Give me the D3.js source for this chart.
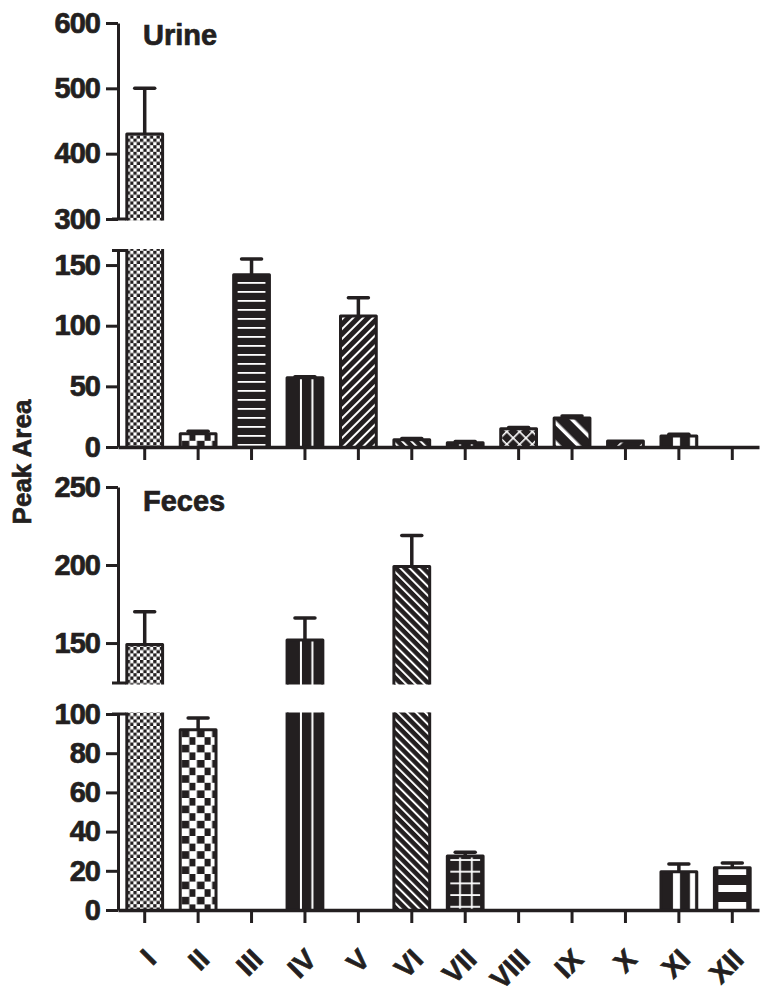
<!DOCTYPE html>
<html>
<head>
<meta charset="utf-8">
<script src="https://cdnjs.cloudflare.com/ajax/libs/d3/7.8.5/d3.min.js"></script>
<style>
    body { margin: 0; background: #fff; }
    text { font-family: "Liberation Sans", Arial, sans-serif; font-weight: bold; fill: #231f20; stroke: #231f20; stroke-width: 0.7px; }
</style>
</head>
<body>
<svg id="chart" width="771" height="995"></svg>
<script>
// compounds on the x axis
var categories = ["I", "II", "III", "IV", "V", "VI", "VII", "VIII", "IX", "X", "XI", "XII"];

// peak areas, mean and upper error
var urineMean = [430, 11, 142, 57, 108, 6, 3.5, 15, 24, 5, 9, 0];
var urineErr  = [70, 2, 13, 1, 15, 1, 1, 1, 1.5, 0.5, 1.5, 0];
var fecesMean = [149, 92, 0, 152, 0, 199, 27.5, 0, 0, 0, 19.5, 21.5];
var fecesErr  = [21, 6, 0, 14, 0, 20, 2, 0, 0, 0, 4, 2.5];

// broken y axes: each sample has an upper and a lower segment
var urineTopTicks = [300, 400, 500, 600];
var urineLowTicks = [0, 50, 100, 150];
var fecesTopTicks = [150, 200, 250];
var fecesLowTicks = [0, 20, 40, 60, 80, 100];

var INK = "#231f20",
    AXIS_X = 118,
    svg = d3.select("#chart"),
    defs = svg.append("defs");

var x = d3.scaleBand()
    .domain(categories)
    .range([AXIS_X, 759])
    .paddingInner(0.33)
    .paddingOuter(0.165);
var bw = x.bandwidth();

var panels = [
    {id: "uTop", y: d3.scaleLinear().domain([300, 600]).range([219, 23]), ticks: urineTopTicks, mean: urineMean, err: urineErr, cap: "bottom"},
    {id: "uLow", y: d3.scaleLinear().domain([0, 162]).range([447, 250.5]), ticks: urineLowTicks, mean: urineMean, err: urineErr, cap: "top", xAxis: true},
    {id: "fTop", y: d3.scaleLinear().domain([124.4, 250]).range([683, 487]), ticks: fecesTopTicks, mean: fecesMean, err: fecesErr, cap: "bottom"},
    {id: "fLow", y: d3.scaleLinear().domain([0, 100]).range([910, 714]), ticks: fecesLowTicks, mean: fecesMean, err: fecesErr, cap: "top", xAxis: true, labels: true}
];

/* Fill patterns, one per compound, anchored on the bar's left edge.
 */
function makePattern(cat, w, h, extra) {
    var p = defs.append("pattern")
        .attr("id", "pat-" + cat)
        .attr("patternUnits", "userSpaceOnUse")
        .attr("x", x(cat))
        .attr("y", 0)
        .attr("width", w)
        .attr("height", h);
    if (extra) p.attr("patternTransform", extra);
    return p;
}

function stripes(cat, step, width, angle) {
    var p = makePattern(cat, step, step, "rotate(" + angle + ")");
    p.append("rect").attr("width", step).attr("height", step).attr("fill", INK);
    p.append("rect").attr("x", 0).attr("width", width).attr("height", step).attr("fill", "#fff");
}

// I: fine checkerboard
(function () {
    var s = 3.3, p = makePattern("I", 2 * s, 2 * s);
    p.append("rect").attr("width", 2 * s).attr("height", 2 * s).attr("fill", "#fff");
    p.append("rect").attr("width", s).attr("height", s).attr("fill", INK);
    p.append("rect").attr("x", s).attr("y", s).attr("width", s).attr("height", s).attr("fill", INK);
})();
// II: coarse checkerboard
(function () {
    var s = 7.6, p = makePattern("II", 2 * s, 2 * s);
    p.append("rect").attr("width", 2 * s).attr("height", 2 * s).attr("fill", "#fff");
    p.append("rect").attr("x", 1.5).attr("width", s).attr("height", s).attr("fill", INK);
    p.append("rect").attr("x", s + 1.5).attr("y", s).attr("width", s).attr("height", s).attr("fill", INK);
})();
// III: thin horizontal lines
(function () {
    var p = makePattern("III", bw, 9);
    p.append("rect").attr("width", bw).attr("height", 9).attr("fill", INK);
    p.append("rect").attr("x", 4).attr("y", 3).attr("width", bw - 8).attr("height", 1.8).attr("fill", "#fff");
})();
// IV: two thin vertical lines
(function () {
    var p = makePattern("IV", bw, 10);
    p.append("rect").attr("width", bw).attr("height", 10).attr("fill", INK);
    p.append("rect").attr("x", bw * 0.36).attr("width", 2).attr("height", 10).attr("fill", "#fff");
    p.append("rect").attr("x", bw * 0.68).attr("width", 2).attr("height", 10).attr("fill", "#fff");
})();
stripes("V", 7, 2, 45);
stripes("VI", 6.5, 2, -45);
// VII: grid
(function () {
    var p = makePattern("VII", bw, 11.7);
    p.append("rect").attr("width", bw).attr("height", 11.7).attr("fill", INK);
    p.append("rect").attr("x", 3).attr("y", 5).attr("width", bw - 6).attr("height", 1.8).attr("fill", "#fff");
    p.append("rect").attr("x", bw * 0.33).attr("width", 1.8).attr("height", 11.7).attr("fill", "#fff");
    p.append("rect").attr("x", bw * 0.66).attr("width", 1.8).attr("height", 11.7).attr("fill", "#fff");
})();
// VIII: cross-hatch
(function () {
    var p = makePattern("VIII", 9, 9, "rotate(45)");
    p.append("rect").attr("width", 9).attr("height", 9).attr("fill", INK);
    p.append("rect").attr("x", 0).attr("width", 1.6).attr("height", 9).attr("fill", "#fff");
    p.append("rect").attr("y", 0).attr("width", 9).attr("height", 1.6).attr("fill", "#fff");
})();
stripes("IX", 14, 3.5, -45);
stripes("X", 16, 1.6, 45);
// XI: two vertical bands
(function () {
    var p = makePattern("XI", bw, 10);
    p.append("rect").attr("width", bw).attr("height", 10).attr("fill", INK);
    p.append("rect").attr("x", 12).attr("width", 7).attr("height", 10).attr("fill", "#fff");
    p.append("rect").attr("x", 29).attr("width", 5.5).attr("height", 10).attr("fill", "#fff");
})();
// XII: wide horizontal bands
(function () {
    var p = makePattern("XII", bw, 17);
    p.append("rect").attr("width", bw).attr("height", 17).attr("fill", INK);
    p.append("rect").attr("x", 4).attr("y", 4).attr("width", bw - 8).attr("height", 7).attr("fill", "#fff");
})();
defs.select("#pat-XII").attr("y", 915);

panels.forEach(function (pn) {
    var y = pn.y,
        top = y.range()[1],
        bottom = y.range()[0],
        g = svg.append("g");

    defs.append("clipPath").attr("id", "clip-" + pn.id)
        .append("rect")
        .attr("x", AXIS_X).attr("y", top - 1.5)
        .attr("width", 771 - AXIS_X).attr("height", bottom - top + 3);

    var plot = g.append("g").attr("clip-path", "url(#clip-" + pn.id + ")");
    var lo = y.domain()[0];
    var rows = categories.map(function (c, i) { return {cat: c, v: pn.mean[i], e: pn.err[i]}; })
        .filter(function (d) { return d.v > lo; });

    // bars (clipped to this segment of the broken axis)
    plot.selectAll("rect.bar")
        .data(rows)
        .enter().append("rect")
        .attr("class", "bar")
        .attr("x", function (d) { return x(d.cat); })
        .attr("width", bw)
        .attr("y", function (d) { return y(d.v); })
        .attr("height", function (d) { return y(Math.min(0, lo)) - y(d.v) + 40; })
        .attr("fill", function (d) { return "url(#pat-" + d.cat + ")"; })
        .attr("stroke", INK)
        .attr("stroke-width", 3)
        .attr("stroke-linejoin", "round");

    // upper error bars
    var eb = plot.selectAll("g.err")
        .data(rows.filter(function (d) { return d.e > 0.6; }))
        .enter().append("g").attr("class", "err");
    eb.append("line")
        .attr("x1", function (d) { return x(d.cat) + bw / 2; })
        .attr("x2", function (d) { return x(d.cat) + bw / 2; })
        .attr("y1", function (d) { return y(d.v); })
        .attr("y2", function (d) { return y(d.v + d.e); })
        .attr("stroke", INK).attr("stroke-width", 3.5);
    eb.append("line")
        .attr("x1", function (d) { return x(d.cat) + bw / 2 - 10; })
        .attr("x2", function (d) { return x(d.cat) + bw / 2 + 10; })
        .attr("y1", function (d) { return y(d.v + d.e); })
        .attr("y2", function (d) { return y(d.v + d.e); })
        .attr("stroke", INK).attr("stroke-width", 3.5).attr("stroke-linecap", "round");

    // y axis
    var ya = g.append("g")
        .attr("transform", "translate(" + AXIS_X + ",0)")
        .call(d3.axisLeft(y).tickValues(pn.ticks).tickSize(12).tickSizeOuter(0).tickPadding(6));
    ya.select(".domain").attr("stroke", INK).attr("stroke-width", 3);
    ya.selectAll(".tick line").attr("stroke", INK).attr("stroke-width", 3);
    ya.selectAll(".tick text")
        .attr("font-size", 29)
        .attr("font-family", null)
        .attr("fill", INK)
        .attr("letter-spacing", -1);

    // break mark where the axis is cut
    var capY = pn.cap === "top" ? top : bottom;
    g.append("line")
        .attr("x1", AXIS_X - 6).attr("x2", AXIS_X + 8)
        .attr("y1", capY).attr("y2", capY)
        .attr("stroke", INK).attr("stroke-width", 3);

    if (pn.xAxis) {
        var xa = g.append("g")
            .attr("transform", "translate(0," + bottom + ")")
            .call(d3.axisBottom(x).tickSize(13).tickSizeOuter(0)
                .tickFormat(pn.labels ? null : function () { return ""; }));
        xa.select(".domain").attr("stroke", INK).attr("stroke-width", 3.5);
        xa.selectAll(".tick line").attr("stroke", INK).attr("stroke-width", 3);
        if (pn.labels) {
            xa.selectAll(".tick text")
                .attr("font-size", 28)
                .attr("font-family", null)
                .attr("fill", INK)
                .attr("text-anchor", "end")
                .attr("y", 0).attr("dy", 0)
                .attr("transform", "translate(13,51) rotate(-45)");
        } else {
            xa.selectAll(".tick text").remove();
        }
    }
});

// panel titles
svg.append("text").attr("x", 143).attr("y", 45).attr("font-size", 29).text("Urine");
svg.append("text").attr("x", 143).attr("y", 511).attr("font-size", 29).text("Feces");

// shared y axis title
svg.append("text")
    .attr("transform", "translate(31,462) rotate(-90)")
    .attr("text-anchor", "middle")
    .attr("font-size", 26)
    .text("Peak Area");
</script>
</body>
</html>
